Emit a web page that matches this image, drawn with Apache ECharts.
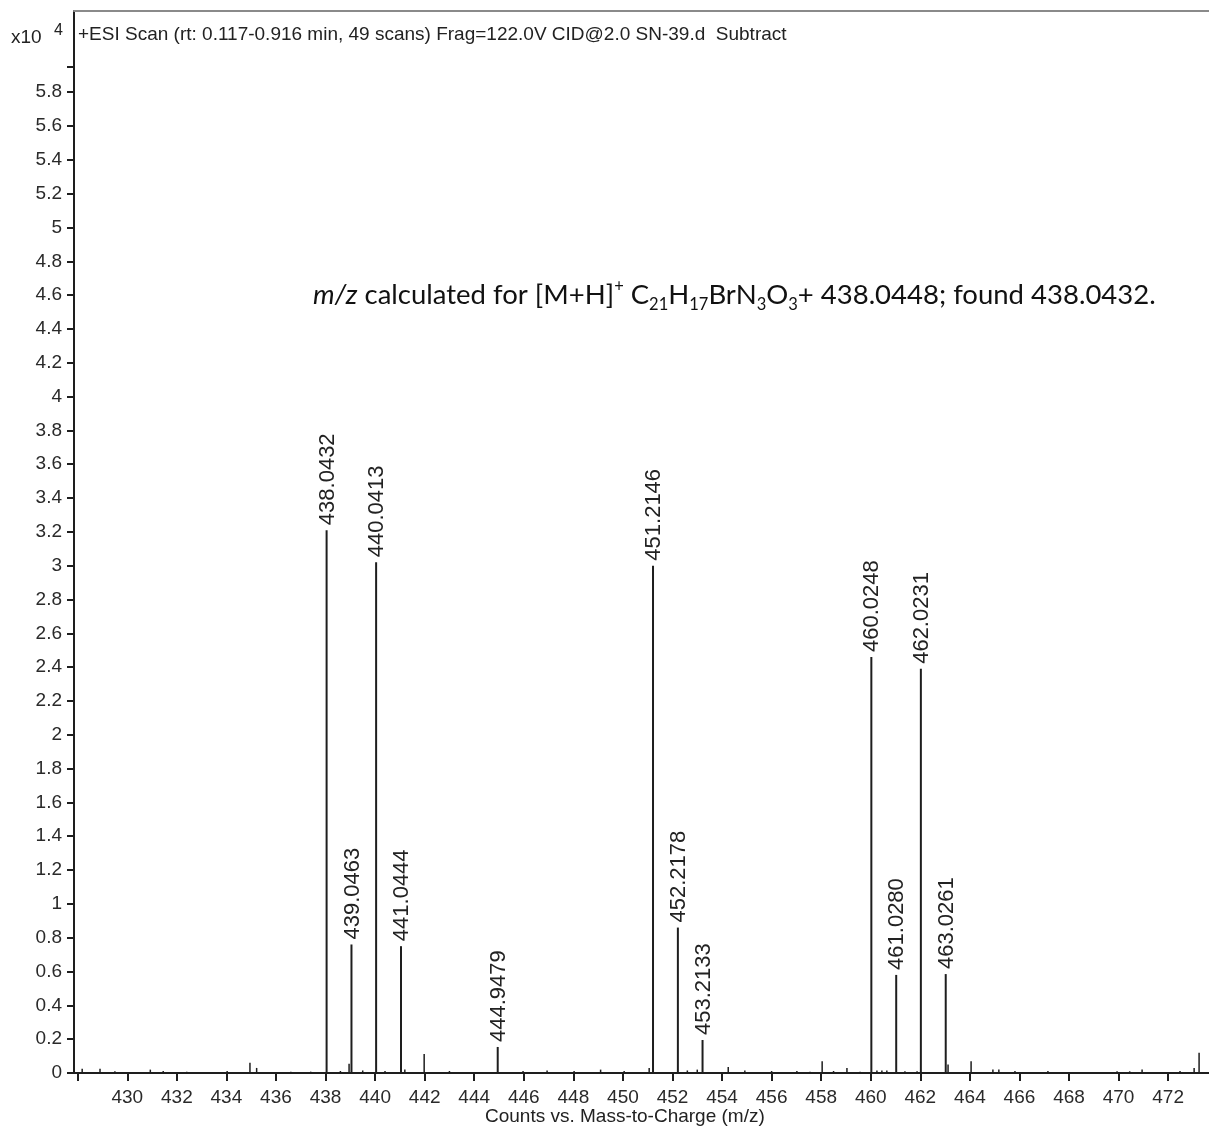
<!DOCTYPE html>
<html>
<head>
<meta charset="utf-8">
<script src="https://cdn.jsdelivr.net/npm/echarts@6/dist/echarts.min.js"></script>
<style>
html,body{margin:0;padding:0;background:#fff;}
#chart{width:1209px;height:1129px;}
</style>
</head>
<body>
<div id="chart"></div>
<script>
// Labelled peaks (m/z, counts x10^4)
var peakMz = [438.0432, 439.0463, 440.0413, 441.0444, 444.9479, 451.2146, 452.2178, 453.2133, 460.0248, 461.0280, 462.0231, 463.0261];
var peakLabels = ['438.0432', '439.0463', '440.0413', '441.0444', '444.9479', '451.2146', '452.2178', '453.2133', '460.0248', '461.0280', '462.0231', '463.0261'];
var peakCounts = [3.21, 0.76, 3.02, 0.75, 0.154, 3.00, 0.86, 0.195, 2.46, 0.58, 2.39, 0.585];

// Minor / noise peaks (unlabelled)
var minorMz = [428.18, 428.9, 429.5, 430.93, 431.45, 432.4, 434.03, 434.95, 435.22, 436.6, 437.4, 438.6, 438.95, 439.5, 440.4, 441.2, 441.98, 443.0, 445.97, 446.94, 448.03, 449.1, 450.05, 451.06, 452.6, 453.0, 454.25, 454.92, 456.0, 457.02, 457.55, 458.04, 458.5, 459.04, 459.57, 460.25, 460.45, 460.65, 461.38, 461.87, 463.12, 464.05, 464.93, 465.17, 465.82, 467.15, 469.94, 470.45, 470.95, 472.48, 473.05, 473.25];
var minorCounts = [0.025, 0.025, 0.01, 0.02, 0.012, 0.008, 0.012, 0.06, 0.03, 0.008, 0.008, 0.012, 0.055, 0.015, 0.012, 0.02, 0.112, 0.012, 0.012, 0.015, 0.012, 0.02, 0.012, 0.03, 0.015, 0.02, 0.035, 0.015, 0.012, 0.012, 0.008, 0.07, 0.012, 0.03, 0.008, 0.015, 0.015, 0.015, 0.01, 0.01, 0.05, 0.07, 0.02, 0.02, 0.012, 0.012, 0.01, 0.01, 0.02, 0.012, 0.03, 0.12];

// Axis ticks / labels
var xTickValues = [428, 430, 432, 434, 436, 438, 440, 442, 444, 446, 448, 450, 452, 454, 456, 458, 460, 462, 464, 466, 468, 470, 472];
var xLabelValues = [430, 432, 434, 436, 438, 440, 442, 444, 446, 448, 450, 452, 454, 456, 458, 460, 462, 464, 466, 468, 470, 472];
var yLabelValues = [0, 0.2, 0.4, 0.6, 0.8, 1, 1.2, 1.4, 1.6, 1.8, 2, 2.2, 2.4, 2.6, 2.8, 3, 3.2, 3.4, 3.6, 3.8, 4, 4.2, 4.4, 4.6, 4.8, 5, 5.2, 5.4, 5.6, 5.8];
var yTickValues = yLabelValues.concat([5.95]);

var titleText = '+ESI Scan (rt: 0.117-0.916 min, 49 scans) Frag=122.0V CID@2.0 SN-39.d  Subtract';
var axisTitle = 'Counts vs. Mass-to-Charge (m/z)';

var FONT = '"Liberation Sans", Arial, sans-serif';
var NOTE_FONT = 'Lato, "Open Sans", sans-serif';

var X_MIN = 427.85, X_MAX = 473.65;

var peakData = peakMz.map(function (m, i) { return [m, peakCounts[i]]; });
var minorData = minorMz.map(function (m, i) { return [m, minorCounts[i]]; });

function stick(width, labels) {
  return function (params, api) {
    var x = api.value(0), y = api.value(1);
    var p0 = api.coord([x, 0]);
    var p1 = api.coord([x, y]);
    var children = [{
      type: 'line',
      shape: { x1: p0[0], y1: p0[1], x2: p1[0], y2: p1[1] },
      style: { stroke: '#1e1e1e', lineWidth: width }
    }];
    if (labels) {
      children.push({
        type: 'text',
        x: p1[0] + 1,
        y: p1[1] - 5,
        rotation: Math.PI / 2,
        style: {
          text: labels[params.dataIndex],
          align: 'left',
          verticalAlign: 'middle',
          fontSize: 22,
          fontFamily: FONT,
          fill: '#222'
        }
      });
    }
    return { type: 'group', children: children };
  };
}

var chart = echarts.init(document.getElementById('chart'));
chart.setOption({
  backgroundColor: '#fff',
  animation: false,
  grid: { left: 74, top: 11, right: 0, bottom: 56, show: false },
  xAxis: [{
    type: 'value',
    min: X_MIN,
    max: X_MAX,
    axisLine: { show: true, onZero: false, lineStyle: { color: '#1e1e1e', width: 2 } },
    axisTick: { show: true, length: 8, customValues: xTickValues, lineStyle: { color: '#1e1e1e', width: 2 } },
    axisLabel: { customValues: xLabelValues, fontSize: 19, fontFamily: FONT, color: '#2a2a2a', margin: 15 },
    splitLine: { show: false }
  }, {
    type: 'value',
    position: 'top',
    min: X_MIN,
    max: X_MAX,
    axisLine: { show: true, onZero: false, lineStyle: { color: '#8a8a8a', width: 2 } },
    axisTick: { show: false },
    axisLabel: { show: false },
    splitLine: { show: false }
  }],
  yAxis: {
    type: 'value',
    min: 0,
    max: 6.28,
    axisLine: { show: true, lineStyle: { color: '#1e1e1e', width: 2 } },
    axisTick: { show: true, length: 7, customValues: yTickValues, lineStyle: { color: '#1e1e1e', width: 2 } },
    axisLabel: {
      customValues: yLabelValues, fontSize: 19, fontFamily: FONT, color: '#2a2a2a', margin: 12,
      formatter: function (v) { return String(+v.toFixed(1)); }
    },
    splitLine: { show: false }
  },
  graphic: [
    { type: 'text', left: 78, top: 25, style: { text: titleText, fontSize: 19, fontFamily: FONT, fill: '#222' } },
    { type: 'text', left: 11, top: 28, style: { text: 'x10', fontSize: 19, fontFamily: FONT, fill: '#222' } },
    { type: 'text', left: 54, top: 23, style: { text: '4', fontSize: 16, fontFamily: FONT, fill: '#222' } },
    { type: 'text', left: 485, top: 1107, style: { text: axisTitle, fontSize: 19, fontFamily: FONT, fill: '#222' } },
    {
      type: 'text', left: 313, top: 278,
      style: {
        text: '{i|m/z}{n| calculated for [M+H]}{sup|+}{n| C}{sub|21}{n|H}{sub|17}{n|BrN}{sub|3}{n|O}{sub|3}{n|+ 438.0448; found 438.0432.}',
        rich: {
          i: { fontSize: 27.5, fontStyle: 'italic', fontFamily: NOTE_FONT, fill: '#111', lineHeight: 35, verticalAlign: 'middle' },
          n: { fontSize: 27.5, fontFamily: NOTE_FONT, fill: '#111', lineHeight: 35, verticalAlign: 'middle' },
          sup: { fontSize: 16.5, fontFamily: NOTE_FONT, fill: '#111', lineHeight: 16, verticalAlign: 'top' },
          sub: { fontSize: 16.5, fontFamily: NOTE_FONT, fill: '#111', lineHeight: 16, verticalAlign: 'bottom' }
        }
      }
    }
  ],
  series: [
    { type: 'custom', renderItem: stick(1.5, null), data: minorData, encode: { x: 0, y: 1 }, silent: true },
    { type: 'custom', renderItem: stick(2, peakLabels), data: peakData, encode: { x: 0, y: 1 }, silent: true }
  ]
});
</script>
</body>
</html>
